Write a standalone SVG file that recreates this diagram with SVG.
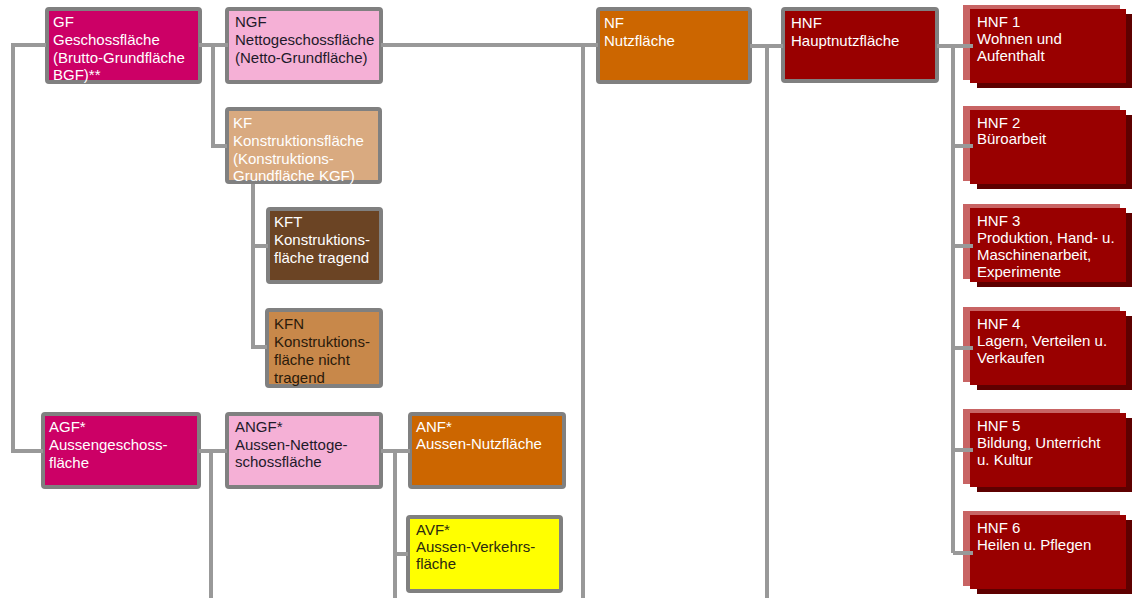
<svg xmlns="http://www.w3.org/2000/svg" width="1133" height="598" viewBox="0 0 1133 598">
<style>
.bx{stroke:#808080;stroke-width:4}
.t{font-family:"Liberation Sans",Arial,sans-serif;font-size:15px}
.w{fill:#ffffff}
.d{fill:#1e1a2a}
.c{fill:none;stroke:#999999;stroke-width:4;stroke-linejoin:miter}
.lt{fill:#c86464}
.sh{fill:#5e0000}
.mn{fill:#990000}
</style>
<rect width="1133" height="598" fill="#ffffff"/>
<g id="GF"><rect class="bx" x="47" y="9" width="153" height="73" rx="2" fill="#cc0066"/>
<text class="t w"><tspan x="53" y="27">GF</tspan><tspan x="53" y="45">Geschossfläche</tspan><tspan x="53" y="63">(Brutto-Grundfläche</tspan><tspan x="53" y="80">BGF)**</tspan></text></g>
<g id="NGF"><rect class="bx" x="227" y="9" width="154" height="73" rx="2" fill="#f5b0d6"/>
<text class="t d"><tspan x="235" y="27">NGF</tspan><tspan x="235" y="45">Nettogeschossfläche</tspan><tspan x="235" y="63">(Netto-Grundfläche)</tspan></text></g>
<g id="KF"><rect class="bx" x="227" y="109" width="153" height="73" rx="2" fill="#d9aa80"/>
<text class="t w"><tspan x="233" y="128">KF</tspan><tspan x="233" y="146">Konstruktionsfläche</tspan><tspan x="233" y="164">(Konstruktions-</tspan><tspan x="233" y="181">Grundfläche KGF)</tspan></text></g>
<g id="KFT"><rect class="bx" x="268" y="209" width="113" height="73" rx="2" fill="#6b4424"/>
<text class="t w"><tspan x="274" y="227">KFT</tspan><tspan x="274" y="245">Konstruktions-</tspan><tspan x="274" y="263">fläche tragend</tspan></text></g>
<g id="KFN"><rect class="bx" x="267" y="310" width="114" height="76" rx="2" fill="#c8884a"/>
<text class="t" fill="#2a1a0a"><tspan x="274" y="329">KFN</tspan><tspan x="274" y="347">Konstruktions-</tspan><tspan x="274" y="365">fläche nicht</tspan><tspan x="274" y="383">tragend</tspan></text></g>
<g id="NF"><rect class="bx" x="598" y="9" width="152" height="73" rx="2" fill="#cc6600"/>
<text class="t w"><tspan x="604" y="28">NF</tspan><tspan x="604" y="46">Nutzfläche</tspan></text></g>
<g id="HNF"><rect class="bx" x="783" y="9" width="154" height="72" rx="2" fill="#990000"/>
<text class="t w"><tspan x="791" y="28">HNF</tspan><tspan x="791" y="46">Hauptnutzfläche</tspan></text></g>
<g id="AGF"><rect class="bx" x="43" y="414" width="156" height="73" rx="2" fill="#cc0066"/>
<text class="t w"><tspan x="49" y="432">AGF*</tspan><tspan x="49" y="450">Aussengeschoss-</tspan><tspan x="49" y="468">fläche</tspan></text></g>
<g id="ANGF"><rect class="bx" x="227" y="414" width="154" height="73" rx="2" fill="#f5b0d6"/>
<text class="t d"><tspan x="235" y="432">ANGF*</tspan><tspan x="235" y="450">Aussen-Nettoge-</tspan><tspan x="235" y="467">schossfläche</tspan></text></g>
<g id="ANF"><rect class="bx" x="410" y="414" width="154" height="73" rx="2" fill="#cc6600"/>
<text class="t w"><tspan x="416" y="432">ANF*</tspan><tspan x="416" y="449">Aussen-Nutzfläche</tspan></text></g>
<g id="AVF"><rect class="bx" x="408" y="517" width="153" height="74" rx="2" fill="#ffff00"/>
<text class="t" fill="#2a2a10"><tspan x="416" y="535">AVF*</tspan><tspan x="416" y="552">Aussen-Verkehrs-</tspan><tspan x="416" y="569">fläche</tspan></text></g>
<g id="HNF1"><rect class="lt" x="963" y="5" width="157" height="75"/><rect class="sh" x="977" y="14" width="155" height="74"/><rect class="mn" x="970" y="9" width="156" height="74"/>
<text class="t w"><tspan x="977" y="27">HNF 1</tspan><tspan x="977" y="44">Wohnen und</tspan><tspan x="977" y="61">Aufenthalt</tspan></text></g>
<g id="HNF2"><rect class="lt" x="963" y="106" width="157" height="75"/><rect class="sh" x="977" y="115" width="155" height="74"/><rect class="mn" x="970" y="110" width="156" height="74"/>
<text class="t w"><tspan x="977" y="128">HNF 2</tspan><tspan x="977" y="144">Büroarbeit</tspan></text></g>
<g id="HNF3"><rect class="lt" x="963" y="204" width="157" height="75"/><rect class="sh" x="977" y="213" width="155" height="74"/><rect class="mn" x="970" y="208" width="156" height="74"/>
<text class="t w"><tspan x="977" y="226">HNF 3</tspan><tspan x="977" y="243">Produktion, Hand- u.</tspan><tspan x="977" y="260">Maschinenarbeit,</tspan><tspan x="977" y="277">Experimente</tspan></text></g>
<g id="HNF4"><rect class="lt" x="963" y="307" width="157" height="75"/><rect class="sh" x="977" y="316" width="155" height="74"/><rect class="mn" x="970" y="311" width="156" height="74"/>
<text class="t w"><tspan x="977" y="329">HNF 4</tspan><tspan x="977" y="346">Lagern, Verteilen u.</tspan><tspan x="977" y="363">Verkaufen</tspan></text></g>
<g id="HNF5"><rect class="lt" x="963" y="409" width="157" height="75"/><rect class="sh" x="977" y="418" width="155" height="74"/><rect class="mn" x="970" y="413" width="156" height="74"/>
<text class="t w"><tspan x="977" y="431">HNF 5</tspan><tspan x="977" y="448">Bildung, Unterricht</tspan><tspan x="977" y="465">u. Kultur</tspan></text></g>
<g id="HNF6"><rect class="lt" x="963" y="511" width="157" height="75"/><rect class="sh" x="977" y="520" width="155" height="74"/><rect class="mn" x="970" y="515" width="156" height="74"/>
<text class="t w"><tspan x="977" y="533">HNF 6</tspan><tspan x="977" y="550">Heilen u. Pflegen</tspan></text></g>
<g id="connectors" class="c">
<path d="M199 45H228"/>
<path d="M213 45V146H227"/>
<path d="M46 45H13V451H43"/>
<path d="M381 45H598"/>
<path d="M583 45V598"/>
<path d="M750 46H783"/>
<path d="M767 46V598"/>
<path d="M937 46H973"/>
<path d="M953 46V553"/>
<path d="M953 146H973M953 246H973M953 348H973M953 450H973M953 553H973"/>
<path d="M253 184V347H267"/>
<path d="M253 246H268"/>
<path d="M199 451H227"/>
<path d="M211 451V598"/>
<path d="M381 451H410"/>
<path d="M395 451V598"/>
<path d="M395 554H408"/>
</g>
</svg>
